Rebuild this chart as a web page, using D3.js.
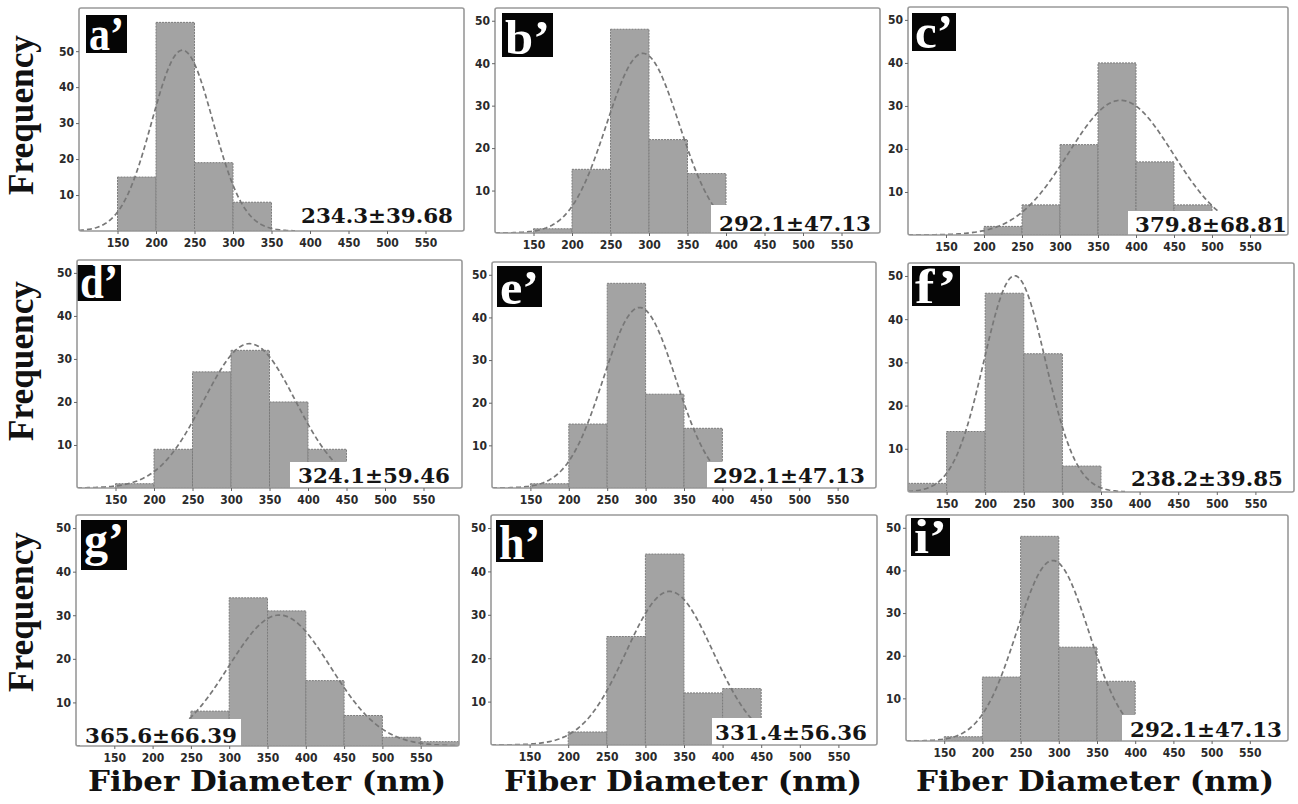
<!DOCTYPE html>
<html>
<head>
<meta charset="utf-8">
<script src="https://cdn.jsdelivr.net/npm/d3@7"></script>
<style>
  body { margin: 0; background: #fff; }
  svg { display: block; }
</style>
</head>
<body>
<svg id="fig" width="1298" height="804"></svg>
<script>
// Fiber diameter histograms (bins of 50 nm) with fitted normal curves
const panelLetters = ["a’", "b’", "c’", "d’", "e’", "f’", "g’", "h’", "i’"];
const binEdges = [100, 150, 200, 250, 300, 350, 400, 450, 500, 550, 600];

const freqA = [0, 15, 58, 19, 8, 0, 0, 0, 0, 0];
const freqB = [0, 1, 15, 48, 22, 14, 0, 0, 0, 0];
const freqC = [0, 0, 2, 7, 21, 40, 17, 7, 0, 0];
const freqD = [0, 1, 9, 27, 32, 20, 9, 0, 0, 0];
const freqE = [0, 1, 15, 48, 22, 14, 0, 0, 0, 0];
const freqF = [2, 14, 46, 32, 6, 0, 0, 0, 0, 0];
const freqG = [0, 0, 0, 8, 34, 31, 15, 7, 2, 1];
const freqH = [0, 0, 3, 25, 44, 12, 13, 0, 0, 0];
const freqI = [0, 1, 15, 48, 22, 14, 0, 0, 0, 0];
const frequencies = [freqA, freqB, freqC, freqD, freqE, freqF, freqG, freqH, freqI];

const means   = [234.3, 292.1, 379.8, 324.1, 292.1, 238.2, 365.6, 331.4, 292.1];
const stdDevs = [39.68, 47.13, 68.81, 59.46, 47.13, 39.85, 66.39, 56.36, 47.13];
const fitCounts = [100, 100, 108, 100, 100, 100, 100, 100, 100];

const xTicks = [150, 200, 250, 300, 350, 400, 450, 500, 550];
const yTicks = [10, 20, 30, 40, 50];
const yLimits = [62, 53, 53, 53, 53, 53, 53, 53, 53];

// Placement of each panel on the page
const panelLayout = [
  { frame: [79, 8, 464, 231],   tag: [86, 15, 41, 38, 3],   box: [295, 203],  stat: [453, 223, "end"] },
  { frame: [495, 8, 880, 233],  tag: [502, 13, 51, 44, 3],  box: [711, 205],  stat: [871, 231, "end"] },
  { frame: [908, 7, 1288, 235], tag: [912, 13, 44, 38, 3],  box: [1128, 211], stat: [1287, 232, "end"] },
  { frame: [77, 260, 462, 488], tag: [77, 265, 44, 36, 3],  box: [290, 462],  stat: [450, 483, "end"] },
  { frame: [492, 262, 876, 488], tag: [497, 266, 45, 41, 3], box: [707, 462], stat: [865, 483, "end"] },
  { frame: [908, 263, 1294, 492], tag: [912, 266, 48, 40, 3], box: [1125, 466], stat: [1283, 486, "end"] },
  { frame: [76, 515, 459, 746], tag: [81, 520, 46, 50, 14], box: [80, 719, 241], stat: [85, 743, "start"] },
  { frame: [491, 515, 877, 745], tag: [496, 520, 47, 42, 3], box: [712, 718], stat: [867, 740, "end"] },
  { frame: [906, 515, 1288, 741], tag: [911, 518, 39, 38, 3], box: [1122, 715], stat: [1282, 737, "end"] }
];

const rowLabelY = [115, 361, 612];
const colLabelX = [267, 683, 1095];

const svg = d3.select("#fig");
svg.append("rect").attr("width", 1298).attr("height", 804).attr("fill", "#fff");

const normalPdf = (x, m, s) => Math.exp(-0.5 * ((x - m) / s) ** 2) / (s * Math.sqrt(2 * Math.PI));
const curveXs = d3.range(100, 600.5, 2);

panelLetters.forEach((letter, i) => {
  const lay = panelLayout[i];
  const [L, T, R, B] = lay.frame;
  const x = d3.scaleLinear().domain([100, 600]).range([L, R]);
  const y = d3.scaleLinear().domain([0, yLimits[i]]).range([B, T]);
  const g = svg.append("g");

  const clipId = "clip" + i;
  svg.append("clipPath").attr("id", clipId)
    .append("rect").attr("x", L).attr("y", T).attr("width", R - L).attr("height", B - T);

  const plot = g.append("g").attr("clip-path", `url(#${clipId})`);

  // histogram bars
  const bins = frequencies[i].map((f, k) => ({ x0: binEdges[k], x1: binEdges[k + 1], f }))
    .filter(d => d.f > 0);
  plot.selectAll("rect.bar").data(bins).join("rect")
    .attr("class", "bar")
    .attr("x", d => x(d.x0))
    .attr("y", d => y(d.f))
    .attr("width", d => x(d.x1) - x(d.x0))
    .attr("height", d => y(0) - y(d.f))
    .attr("fill", "#a3a3a3")
    .attr("stroke", "#7c7c7c")
    .attr("stroke-width", 1)
    .attr("stroke-dasharray", "2,1");

  // fitted normal curve
  const binWidth = 50;
  const line = d3.line()
    .x(v => x(v))
    .y(v => y(fitCounts[i] * binWidth * normalPdf(v, means[i], stdDevs[i])));
  plot.append("path")
    .attr("d", line(curveXs))
    .attr("fill", "none")
    .attr("stroke", "#777")
    .attr("stroke-width", 1.7)
    .attr("stroke-dasharray", "5,3");

  // mean ± SD label on a white box
  const bx0 = lay.box[0], by0 = lay.box[1];
  const bx1 = lay.box.length > 2 ? lay.box[2] : R;
  plot.append("rect")
    .attr("x", bx0).attr("y", by0)
    .attr("width", bx1 - bx0).attr("height", B - by0)
    .attr("fill", "#fff");
  g.append("text")
    .attr("x", lay.stat[0]).attr("y", lay.stat[1])
    .attr("text-anchor", lay.stat[2])
    .attr("font-family", "'DejaVu Serif', serif")
    .attr("font-weight", "bold")
    .attr("font-size", 21)
    .attr("textLength", 152)
    .attr("lengthAdjust", "spacingAndGlyphs")
    .attr("fill", "#151515")
    .text(`${means[i].toFixed(1)}±${stdDevs[i].toFixed(2)}`);

  // panel tag
  const [tx, ty, tw, th, tb] = lay.tag;
  g.append("rect").attr("x", tx).attr("y", ty).attr("width", tw).attr("height", th).attr("fill", "#050505");
  g.append("text")
    .attr("x", tx + 3).attr("y", ty + th - tb)
    .attr("font-family", "'Liberation Serif', 'Times New Roman', serif")
    .attr("font-weight", "bold")
    .attr("font-size", 48)
    .attr("textLength", tw - 6)
    .attr("lengthAdjust", "spacingAndGlyphs")
    .attr("fill", "#fff")
    .text(letter);

  // frame
  g.append("rect")
    .attr("x", L).attr("y", T).attr("width", R - L).attr("height", B - T)
    .attr("rx", 2)
    .attr("fill", "none")
    .attr("stroke", "#999")
    .attr("stroke-width", 1.6);

  // axes
  const xAxis = g.append("g").attr("transform", `translate(0,${B})`)
    .call(d3.axisBottom(x).tickValues(xTicks).tickSize(3).tickPadding(4).tickFormat(d3.format("d")));
  const yAxis = g.append("g").attr("transform", `translate(${L},0)`)
    .call(d3.axisLeft(y).tickValues(yTicks).tickSize(3).tickPadding(2).tickFormat(d3.format("d")));
  [xAxis, yAxis].forEach(a => {
    a.select(".domain").remove();
    a.selectAll(".tick line").attr("stroke", "#666");
    a.selectAll(".tick text")
      .attr("font-family", "'DejaVu Sans Condensed', 'DejaVu Sans', sans-serif")
      .attr("font-weight", "bold")
      .attr("font-size", 12)
      .attr("fill", "#2a2a2a");
  });
});

// shared axis titles
rowLabelY.forEach(cy => {
  svg.append("text")
    .attr("transform", `translate(33,${cy}) rotate(-90)`)
    .attr("text-anchor", "middle")
    .attr("font-family", "'Liberation Serif', 'Times New Roman', serif")
    .attr("font-weight", "bold")
    .attr("font-size", 35)
    .attr("textLength", 160)
    .attr("lengthAdjust", "spacingAndGlyphs")
    .attr("fill", "#111")
    .text("Frequency");
});
colLabelX.forEach(cx => {
  svg.append("text")
    .attr("x", cx).attr("y", 791)
    .attr("text-anchor", "middle")
    .attr("font-family", "'DejaVu Serif', serif")
    .attr("font-weight", "bold")
    .attr("font-size", 27)
    .attr("textLength", 358)
    .attr("lengthAdjust", "spacingAndGlyphs")
    .attr("fill", "#111")
    .text("Fiber Diameter (nm)");
});
</script>
</body>
</html>
